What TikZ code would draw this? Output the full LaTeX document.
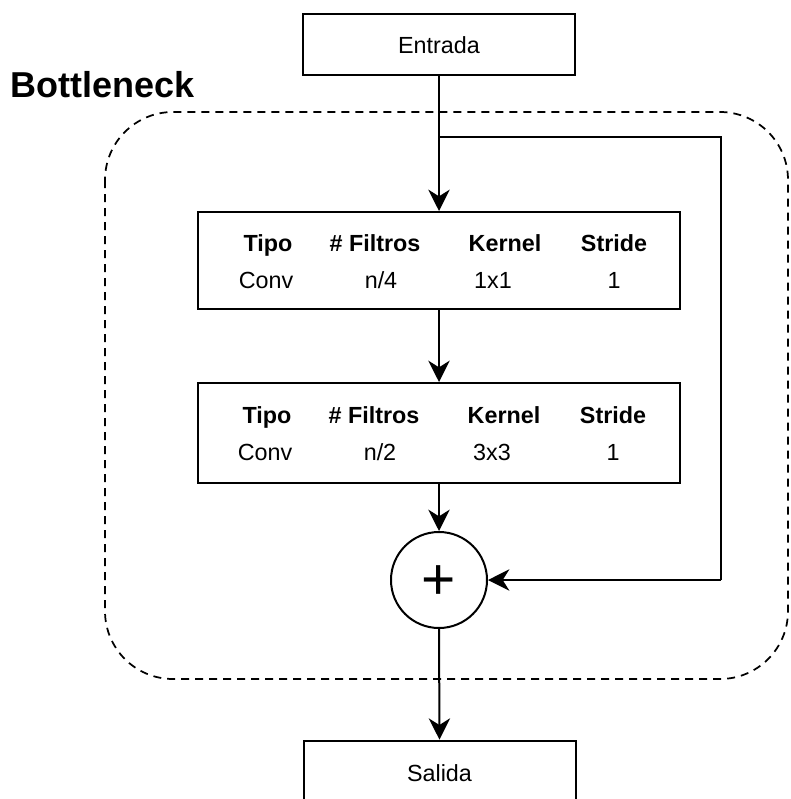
\documentclass[tikz,border=0pt]{standalone}
\usepackage{fontspec}
\setmainfont{Liberation Sans}
\usetikzlibrary{arrows.meta}
\begin{document}
\begin{tikzpicture}[x=0.75pt,y=-0.75pt,
  every node/.style={font=\fontsize{17.5}{20}\selectfont, inner sep=0pt},
  box/.style={draw, line width=1.5pt, rectangle, minimum width=204pt, minimum height=46pt},
  tbox/.style={draw, line width=1.5pt, rectangle, minimum width=361.5pt},
  hd/.style={anchor=base, font=\fontsize{17.5}{20}\selectfont\bfseries},
  vl/.style={anchor=base},
  conn/.style={line width=1.5pt, -{Stealth[length=16pt,width=16pt,inset=5pt]}},
  plain/.style={line width=1.5pt},
  group/.style={draw, line width=1.3pt, dash pattern=on 6pt off 4.5pt, rounded corners=51pt}
]
\clip (0,0) rectangle (790,799);
\fill[white] (0,0) rectangle (790,799);

% dashed group
\draw[group] (105,112) rectangle (788,679);
\node[anchor=base west, font=\fontsize{27}{30}\selectfont\bfseries] (title) at (10,98) {Bottleneck};

% nodes
\node[box] (in) at (439,44.5) {};
\node (intxt) at (439,45) {Entrada};

\node[tbox, minimum height=72.75pt] (b1) at (439,260.5) {};
\node[tbox, minimum height=75pt] (b2) at (439,433) {};

\node[draw, circle, line width=1.5pt, minimum size=72pt] (sum) at (439,580) {};
\node[font=\fontsize{44}{44}\selectfont] (plus) at (439,583) {+};

\node[box, minimum height=47pt] (out) at (439.5,772) {};
\node (outtxt) at (439.5,773) {Salida};

% table 1
\node[hd] (h1a) at (268,251) {Tipo};
\node[hd] (h1b) at (375,251) {\# Filtros};
\node[hd] (h1c) at (505,251) {Kernel};
\node[hd] (h1d) at (614,251) {Stride};
\node[vl] (v1a) at (266,288) {Conv};
\node[vl] (v1b) at (381,288) {n/4};
\node[vl] (v1c) at (493,288) {1x1};
\node[vl] (v1d) at (614,288) {1};

% table 2
\node[hd] (h2a) at (267,423) {Tipo};
\node[hd] (h2b) at (374,423) {\# Filtros};
\node[hd] (h2c) at (504,423) {Kernel};
\node[hd] (h2d) at (613,423) {Stride};
\node[vl] (v2a) at (265,460) {Conv};
\node[vl] (v2b) at (380,460) {n/2};
\node[vl] (v2c) at (492,460) {3x3};
\node[vl] (v2d) at (613,460) {1};

% connectors
\coordinate (split) at (439,137);
\coordinate (rt) at (721,137);
\coordinate (rb) at (721,580);
\draw[conn] (in.south) -- (b1.north);
\draw[plain] (split) -- (rt) -- (rb);
\draw[conn] (rb) -- (sum.east);
\draw[conn] (b1.south) -- (b2.north);
\draw[conn] (b2.south) -- (sum.north);
\draw[conn] (sum.south) -- (out.north);
\end{tikzpicture}
\end{document}
